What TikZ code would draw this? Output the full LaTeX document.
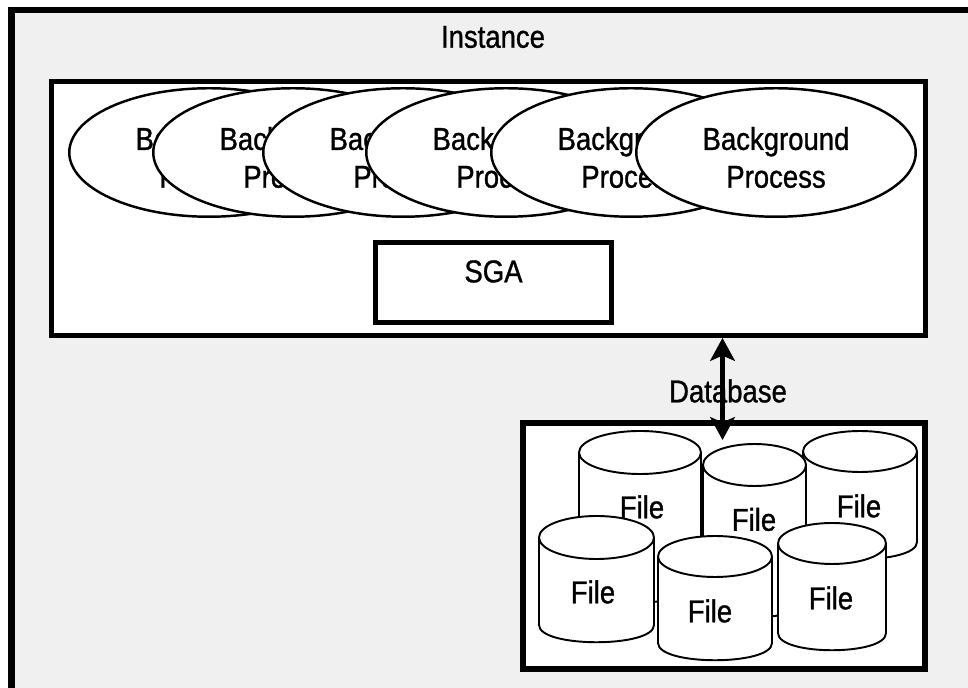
\documentclass[tikz,border=0pt]{standalone}
\usepackage{fontspec}
\setmainfont{Liberation Sans}[FakeStretch=0.87,FakeBold=1]
\usetikzlibrary{arrows.meta,fit,shapes.geometric}
\definecolor{panel}{HTML}{F0F0F0}

\begin{document}
\begin{tikzpicture}[x=0.02cm,y=-0.02cm,
    txt/.style={font=\fontsize{18}{21.5}\selectfont, inner sep=0pt},
    thickbox/.style={draw, fill=white, inner sep=0pt, line width=2.8pt},
    bgproc/.style={ellipse, draw, fill=white, line width=1.4pt,
        minimum width=5.59cm, minimum height=2.57cm, inner sep=0pt},
    disk/.style={draw, fill=white, line width=1.1pt, line join=round},
    dblink/.style={{Stealth[length=13pt,width=14pt,inset=3pt]}-{Stealth[length=13pt,width=14pt,inset=3pt]},
        line width=2.6pt}]
     \useasboundingbox (0,0) rectangle (968,688);
     \clip (0,0) rectangle (968,688);
     \fill[white] (0,0) rectangle (968,688);
     \fill[panel] (11.5,10) rectangle (990,720);
     \draw[line width=3.7pt] (11.5,720) |- (990,10);

     \node[txt] (instlbl) at (493,37) {Instance};
     \node[thickbox, fit={(51.5,81.5) (925.5,335.5)}] (inst) {};

     % background processes, each one lying over the one before
     \foreach \cx [count=\i] in {209,293,403,506,631,776} {
       \node[bgproc] (bp\i) at (\cx,152.5) {};
       \node[txt, align=center] (bpt\i) at (\cx,157.5) {Background\\Process};
     }

     \node[thickbox, txt, fit={(375.5,242.5) (611.5,322.5)}] (sga) {SGA};

     \node[txt] (dblbl) at (728,391) {Database};
     \node[thickbox, line width=3.2pt, fit={(523,423) (925,669)}] (db) {};

     % files: back row first, then front row
     \foreach \cx/\ty/\rx/\ry/\by/\lx [count=\i] in
        {640/452.5/61/21.5/585/642, 860/451.5/57/20.5/542/859,
         754.5/465/51.5/21/600/754, 596.5/537.5/57.5/21.5/625/593,
         715/556.5/57/20.5/643/710, 832/543.5/54/20.5/633/831} {
       \filldraw[disk] (\cx-\rx,\ty) -- (\cx-\rx,\by)
          .. controls (\cx-\rx,\by+23) and (\cx+\rx,\by+23) .. (\cx+\rx,\by) -- (\cx+\rx,\ty);
       \filldraw[disk] (\cx,\ty) ellipse [x radius=\rx, y radius=\ry];
       \node[txt] (file\i) at (\lx,\ty+54.5) {File};
     }

     \coordinate (dbport) at (722.5,440);
     \draw[dblink] (inst.south -| dbport) -- (dbport);
\end{tikzpicture}
\end{document}
